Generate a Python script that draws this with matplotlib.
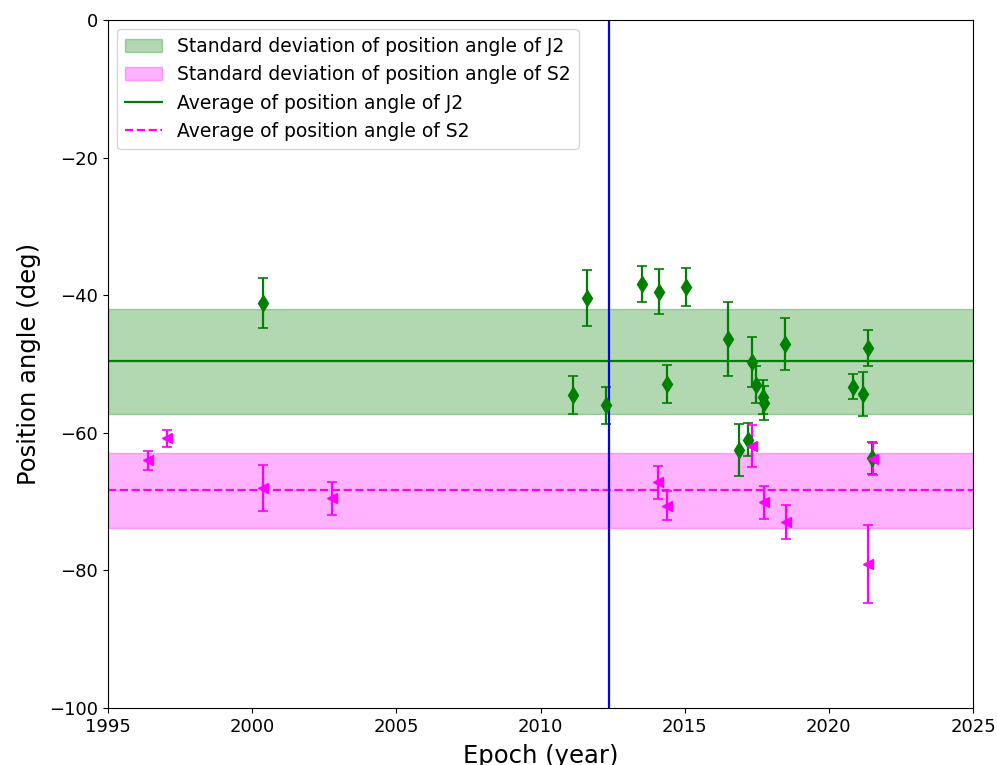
import matplotlib
matplotlib.use("Agg")
import matplotlib.pyplot as plt

# J2 position angles (deg) with 1-sigma errors
j2_epoch = [2000.38, 2011.13, 2011.61, 2012.27, 2013.52, 2014.11, 2014.39, 2015.05,
            2016.51, 2016.89, 2017.21, 2017.32, 2017.47, 2017.70, 2017.75, 2018.49,
            2020.85, 2021.20, 2021.37, 2021.49]
j2_pa = [-41.1, -54.5, -40.4, -56.0, -38.4, -39.5, -52.9, -38.8,
         -46.4, -62.5, -61.0, -49.7, -53.0, -54.8, -55.7, -47.1,
         -53.3, -54.3, -47.7, -63.7]
j2_err = [3.6, 2.8, 4.1, 2.7, 2.6, 3.3, 2.8, 2.7,
          5.4, 3.8, 2.4, 3.6, 2.7, 2.5, 2.5, 3.8,
          1.8, 3.2, 2.6, 2.3]

# S2 position angles (deg) with 1-sigma errors
s2_epoch = [1996.38, 1997.03, 2000.39, 2002.78, 2014.09, 2014.40, 2017.35, 2017.76,
            2018.50, 2021.37, 2021.52]
s2_pa = [-64.0, -60.8, -68.0, -69.5, -67.2, -70.6, -61.9, -70.1, -73.0, -79.1, -63.8]
s2_err = [1.35, 1.2, 3.3, 2.4, 2.4, 2.1, 3.0, 2.4, 2.5, 5.7, 2.3]

# Averages and standard deviations
j2_mean, j2_std = -49.6, 7.65
s2_mean, s2_std = -68.35, 5.45

# Reference epoch
ref_epoch = 2012.38

fig = plt.figure(figsize=(9.97, 7.65), dpi=100)
ax = fig.add_axes([108 / 997, 57 / 765, 865 / 997, 688 / 765])

ax.axhspan(j2_mean - j2_std, j2_mean + j2_std, color="green", alpha=0.3,
           label="Standard deviation of position angle of J2")
ax.axhspan(s2_mean - s2_std, s2_mean + s2_std, color="magenta", alpha=0.3,
           label="Standard deviation of position angle of S2")
ax.axhline(j2_mean, color="green", lw=1.6, label="Average of position angle of J2")
ax.axhline(s2_mean, color="magenta", lw=1.6, ls="--", label="Average of position angle of S2")

ax.errorbar(j2_epoch, j2_pa, yerr=j2_err, fmt="d", color="green", markersize=8,
            capsize=3.5, elinewidth=1.6, capthick=1.2)
ax.errorbar(s2_epoch, s2_pa, yerr=s2_err, fmt="<", color="magenta", markersize=7,
            capsize=3.5, elinewidth=1.6, capthick=1.2)

ax.axvline(ref_epoch, color="blue", lw=1.6)

ax.set_xlim(1995, 2025)
ax.set_ylim(-100, 0)
ax.tick_params(labelsize=13)
ax.set_xlabel("Epoch (year)", fontsize=17.5, labelpad=6)
ax.set_ylabel("Position angle (deg)", fontsize=17.5, labelpad=6)
ax.legend(loc="upper left", fontsize=13.5)

fig.savefig("out.png", dpi=100)
